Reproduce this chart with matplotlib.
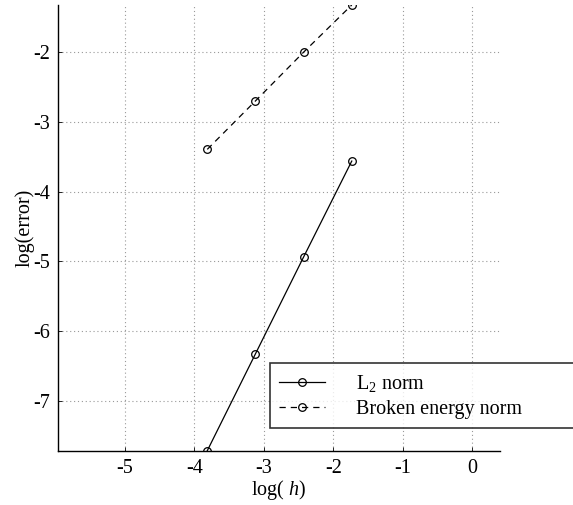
import numpy as np
import matplotlib
matplotlib.use("Agg")
import matplotlib.pyplot as plt

plt.rcParams['font.family'] = ['Liberation Serif', 'DejaVu Serif']
plt.rcParams['mathtext.fontset'] = 'custom'
plt.rcParams['mathtext.rm'] = 'Liberation Serif'
plt.rcParams['mathtext.it'] = 'Liberation Serif:italic'

log_h = [-3.812, -3.119, -2.426, -1.733]
l2_err = [-7.72, -6.33, -4.94, -3.563]
energy_err = [-3.395, -2.70, -2.00, -1.323]
x_ticks = [-5, -4, -3, -2, -1, 0]
y_ticks = [-7, -6, -5, -4, -3, -2]
series_labels = ["L$_2$ norm", "Broken energy norm"]

fig = plt.figure(figsize=(5.73, 5.05), dpi=100)
ax = fig.add_axes([58/573, 1-450.7/505, (500-58)/573, (450.7-5)/505])

ax.plot(log_h, l2_err, '-', color='black', lw=0.9, marker='o', ms=5.5,
        mfc='none', mec='black', mew=0.9, label=series_labels[0])
ax.plot(log_h, energy_err, '--', color='black', lw=0.9, marker='o', ms=5.5,
        mfc='none', mec='black', mew=0.9, dashes=(5, 4), label=series_labels[1])

ax.set_xlim(-5.96, 0.4)
ax.set_ylim(min(l2_err), max(energy_err))
ax.set_xticks(x_ticks)
ax.set_yticks(y_ticks)
ax.set_xticklabels([str(t) for t in x_ticks])
ax.set_yticklabels([str(t) for t in y_ticks])
ax.tick_params(direction='in', length=3, width=0.6, labelsize=14.5)
ax.tick_params(axis='y', pad=6)
ax.tick_params(axis='x', pad=6)
ax.grid(True, linestyle=(0, (1, 2.5)), color='#999999', lw=0.8)
for s in ['top', 'right']:
    ax.spines[s].set_visible(False)
for s in ['left', 'bottom']:
    ax.spines[s].set_linewidth(1.0)

ax.set_xlabel("log( $\\mathit{h}$)", fontsize=14.5, labelpad=0)
ax.set_ylabel("log(error)", fontsize=14.5, labelpad=-1)

leg = fig.legend(loc='upper left', bbox_to_anchor=(270/573, 1-364/505, 360/573, 0.001),
                 mode='expand', borderaxespad=0, fontsize=14.5, handlelength=2.3,
                 handletextpad=1.5, frameon=True, fancybox=False, borderpad=0.45,
                 labelspacing=0.3)
leg.get_frame().set_edgecolor('black')
leg.get_frame().set_linewidth(1.2)

fig.savefig("out.png", dpi=100)
